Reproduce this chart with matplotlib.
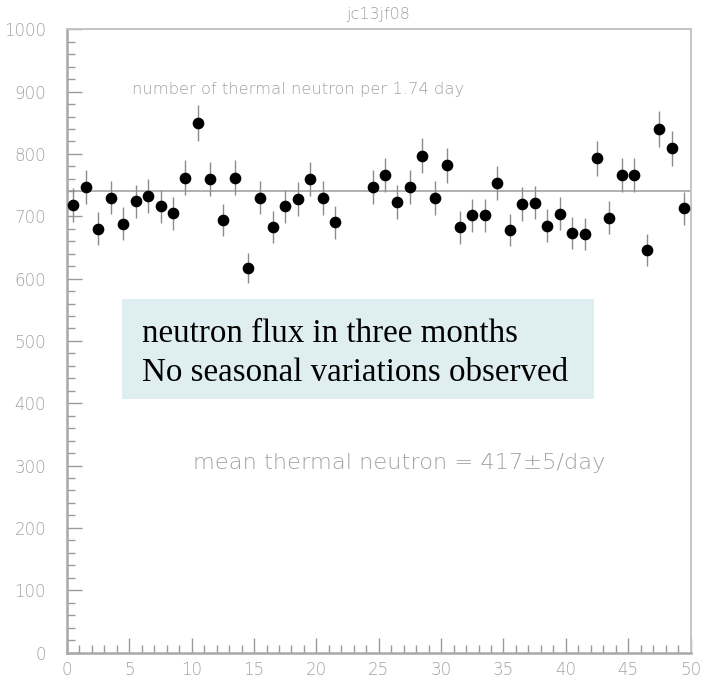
import numpy as np
import matplotlib
matplotlib.use("Agg")
import matplotlib.pyplot as plt
from matplotlib.patches import Rectangle

# thermal neutron counts per 1.74 day bin (bins 23 and 24 missing)
bins = [0.5, 1.5, 2.5, 3.5, 4.5, 5.5, 6.5, 7.5, 8.5, 9.5,
        10.5, 11.5, 12.5, 13.5, 14.5, 15.5, 16.5, 17.5, 18.5, 19.5,
        20.5, 21.5, 24.5, 25.5, 26.5, 27.5, 28.5, 29.5, 30.5, 31.5,
        32.5, 33.5, 34.5, 35.5, 36.5, 37.5, 38.5, 39.5, 40.5, 41.5,
        42.5, 43.5, 44.5, 45.5, 46.5, 47.5, 48.5, 49.5]
counts = [718, 747, 680, 730, 688, 724, 732, 716, 705, 762,
          850, 760, 694, 762, 617, 730, 683, 716, 728, 760,
          729, 690, 747, 766, 723, 747, 797, 729, 782, 682,
          702, 702, 753, 678, 720, 722, 685, 704, 673, 671,
          793, 698, 766, 766, 646, 840, 809, 713]
mean_level = 740

x_ticks = list(range(0, 51, 5))
y_ticks = list(range(0, 1001, 100))

GRAY = "#9a9a9a"
TXT = "#a2a2a2"
SANS = "DejaVu Sans"

fig = plt.figure(figsize=(7.04, 6.84), dpi=100)
ax = fig.add_axes([67 / 704, 1 - 652.5 / 684, 623.5 / 704, 623.2 / 684])

errors = np.sqrt(counts)
ax.errorbar(bins, counts, yerr=errors, fmt="none", ecolor="#8c8c8c",
            elinewidth=1.0, capsize=0, zorder=2)
ax.plot(bins, counts, "o", color="black", markersize=7.4, zorder=3)
ax.axhline(mean_level, color="#b0b0b0", linewidth=1.4, zorder=1)

ax.set_xlim(0, 50)
ax.set_ylim(0, 1000)
ax.set_xticks(x_ticks)
ax.set_yticks(y_ticks)
ax.set_xticks(np.arange(0, 51, 1), minor=True)
ax.set_yticks(np.arange(0, 1001, 20), minor=True)

ax.tick_params(which="major", direction="in", length=11, width=1.0,
               color=GRAY, labelcolor=TXT, labelsize=12)
ax.tick_params(which="minor", direction="in", length=5.5, width=1.0,
               color=GRAY)
ax.tick_params(axis="x", which="both", top=False, pad=6)
ax.tick_params(axis="y", which="both", right=False, pad=15)
for lab in ax.get_xticklabels() + ax.get_yticklabels():
    lab.set_family(SANS)
    lab.set_fontweight("light")

for side in ["left", "bottom"]:
    ax.spines[side].set_color("#a8a8a8")
    ax.spines[side].set_linewidth(1.8)
for side in ["top", "right"]:
    ax.spines[side].set_color("#c4c4c4")
    ax.spines[side].set_linewidth(1.4)

fig.text(378.5 / 704, 1 - 14 / 684, "jc13jf08", ha="center", va="center",
         fontsize=11.5, color=TXT, family=SANS, fontweight="light")

ax.text(5.2, 904, "number of thermal neutron per 1.74 day", ha="left",
        va="center", fontsize=11.75, color=TXT, family=SANS,
        fontweight="light")

ax.add_patch(Rectangle((4.4, 407), 37.9, 160, facecolor="#deeef1",
                       edgecolor="none", zorder=1))
ax.text(6.0, 497.5, "neutron flux in three months", ha="left",
        va="baseline", fontsize=23.8, color="black",
        family="Liberation Serif", zorder=4)
ax.text(6.0, 435, "No seasonal variations observed", ha="left",
        va="baseline", fontsize=23.8, color="black",
        family="Liberation Serif", zorder=4)

ax.text(10.1, 304, "mean thermal neutron = 417\u00b15/day", ha="left",
        va="center", fontsize=16.2, color=TXT, family=SANS,
        fontweight="light")

fig.savefig("out.png", dpi=100)
